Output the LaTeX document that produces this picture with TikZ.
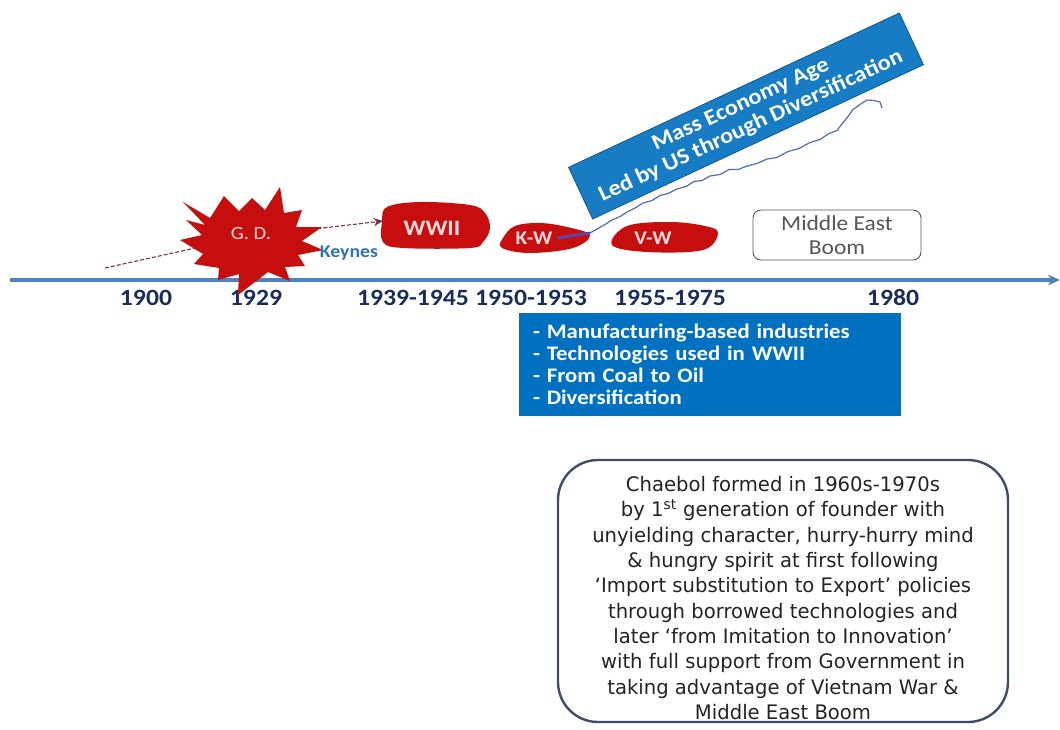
\documentclass[tikz,border=0pt]{standalone}
\usepackage{fontspec}
\setmainfont[FakeStretch=1.1]{Carlito}
\newfontfamily\chfont[FakeStretch=0.98]{DejaVu Sans}
\usetikzlibrary{arrows.meta}
\definecolor{gdred}{RGB}{198,14,14}
\definecolor{axisblue}{RGB}{79,129,189}
\definecolor{navy}{RGB}{25,45,90}
\definecolor{boxblue}{RGB}{0,112,192}
\definecolor{massblue}{RGB}{24,124,196}
\definecolor{keyblue}{RGB}{46,117,182}
\definecolor{dashred}{RGB}{125,40,80}
\definecolor{pinkw}{RGB}{250,218,218}
\definecolor{slate}{RGB}{60,78,105}
\definecolor{wave}{RGB}{80,110,170}
\definecolor{textgray}{RGB}{35,35,35}
\definecolor{megray}{RGB}{85,85,85}
\begin{document}
\begin{tikzpicture}[x=0.75pt,y=-0.75pt,
  year/.style={font=\fontsize{17.5}{20}\selectfont\bfseries, text=navy},
  blobtext/.style={font=\fontsize{14.5}{16}\selectfont\bfseries, text=pinkw},
  blob/.style={fill=gdred},
  dashconn/.style={dashred, dash pattern=on 3pt off 1.5pt, line width=0.8pt},
]
\useasboundingbox (0,0) rectangle (1060,729);
% timeline axis
\coordinate (axL) at (10,280);
\coordinate (axR) at (1060,280);
\draw[axisblue, line width=2.3pt, -{Stealth[length=9pt,width=8pt]}] (axL) -- (axR);
% years
\node[year] (y1900) at (146,298) {1900};
\node[year] (y1929) at (256,298) {1929};
\node[year] (y1939) at (413,298) {1939-1945};
\node[year] (y1950) at (531,298) {1950-1953};
\node[year] (y1955) at (670,298) {1955-1975};
\node[year] (y1980) at (893,298) {1980};
% dashed connector 1900 -> G.D. -> WWII
\coordinate (dstart) at (105,268);
\coordinate (gdc) at (245,237);
\coordinate (wwiiin) at (383,221);
\draw[dashconn, -{Stealth[length=7pt,width=6pt]}] (dstart) -- (gdc) -- (wwiiin);
% G.D. star
\fill[blob] (183,202) -- (210,218) -- (224,196) -- (239,211) -- (252,198) -- (265,210)
  -- (280,187) -- (284,213) -- (302,210) -- (296,227) -- (322,227) -- (302,241)
  -- (323,250) -- (298,255) -- (305,266) -- (285,267) -- (290,281) -- (268,272)
  -- (238,295) -- (239,274) -- (218,280) -- (219,268) -- (194,264) -- (203,254)
  -- (180,240) -- (202,235) -- (186,220) -- (205,225) -- cycle;
\node[font=\fontsize{14}{16}\selectfont, text=pinkw] (GD) at (251,234) {G. D.};
\node[font=\fontsize{13.5}{15}\selectfont\bfseries, text=keyblue] (keynes) at (349,253) {Keynes};
% WWII blob
\fill[blob] plot[smooth cycle, tension=0.6] coordinates {(387,207) (420,202) (470,205) (485,213) (490,228) (483,242) (470,248) (403,248) (383,242) (382,222)};
\node[font=\fontsize{16.5}{18}\selectfont\bfseries, text=pinkw] (WWII) at (432,228) {WWII};
% K-W blob
\fill[blob] plot[smooth cycle, tension=0.6] coordinates {(503,238) (515,226) (540,223) (567,227) (590,235) (573,248) (530,253) (502,248)};
\node[blobtext] (KW) at (534,238) {K-W};
% V-W blob
\fill[blob] plot[smooth cycle, tension=0.6] coordinates {(612,245) (627,226) (670,222) (705,226) (718,233) (703,250) (647,252)};
\node[blobtext] (VW) at (653,238) {V-W};
% Mass economy box
\node[fill=massblue, draw=massblue!70!black, line width=0.6pt, rotate=25,
  minimum width=273.75pt, minimum height=42.75pt, inner sep=0pt, align=center,
  text=white, font=\fontsize{16.5}{18}\selectfont\bfseries] (mass) at (746,116)
  {Mass Economy Age\\Led by US through Diversification};
% K-W connector and wavy line
\coordinate (kwend) at (590,233);
\coordinate (wend) at (882,108);
\draw[gray!60!blue, line width=2pt] (KW.east) -- (kwend);
\draw[wave, line width=0.9pt, line join=round]
  (kwend) -- (598,228.5) -- (605,224.5) -- (612,220) -- (620,216.5) -- (628,211.5) -- (636,207.5)
  -- (643,203) -- (652,200.5) -- (660,195.5) -- (668,193.5) -- (677,189) -- (686,186.5) -- (694,181.5)
  -- (702,180.5) -- (710,176) -- (720,174.5) -- (729,169.5) -- (738,169.5) -- (747,166) -- (757,163.5)
  -- (767,159) -- (777,157.5) -- (788,151.5) -- (799,148.5) -- (810,142.5) -- (820,139.5) -- (829,133.5)
  -- (837,130.5) -- (843,122.5) -- (848,116.5) -- (853,109.5) -- (860,104.5) -- (867,100) -- (874,100.5)
  -- (880,102) -- (wend);
% Middle East Boom
\node[draw=megray, rounded corners=6pt, line width=0.7pt, minimum width=126pt, minimum height=37.5pt,
  align=center, text=megray, font=\fontsize{16}{18}\selectfont] (meb) at (837,235) {Middle East\\Boom};
% blue list box
\node[fill=boxblue, minimum width=286.5pt, minimum height=77.25pt, inner xsep=10.5pt,
  text width=265.5pt, align=left, text=white, font=\fontsize{15.5}{16.5}\selectfont\bfseries] (list) at (710,364.5)
  {- Manufacturing-based industries\\- Technologies used in WWII\\- From Coal to Oil\\- Diversification};
% Chaebol box
\node[draw=slate, line width=1.8pt, rounded corners=30pt, minimum width=337.5pt, minimum height=196.5pt] (chbox) at (783,591) {};
\node[align=center, text=textgray, font=\chfont\fontsize{15}{19}\selectfont] (chaebol) at (783,598)
  {Chaebol formed in 1960s-1970s\\
   by 1\textsuperscript{st} generation of founder with\\
   unyielding character, hurry-hurry mind\\
   \& hungry spirit at first following\\
   ‘Import substitution to Export’ policies\\
   through borrowed technologies and\\
   later ‘from Imitation to Innovation’\\
   with full support from Government in\\
   taking advantage of Vietnam War \&\\
   Middle East Boom};
\end{tikzpicture}
\end{document}
